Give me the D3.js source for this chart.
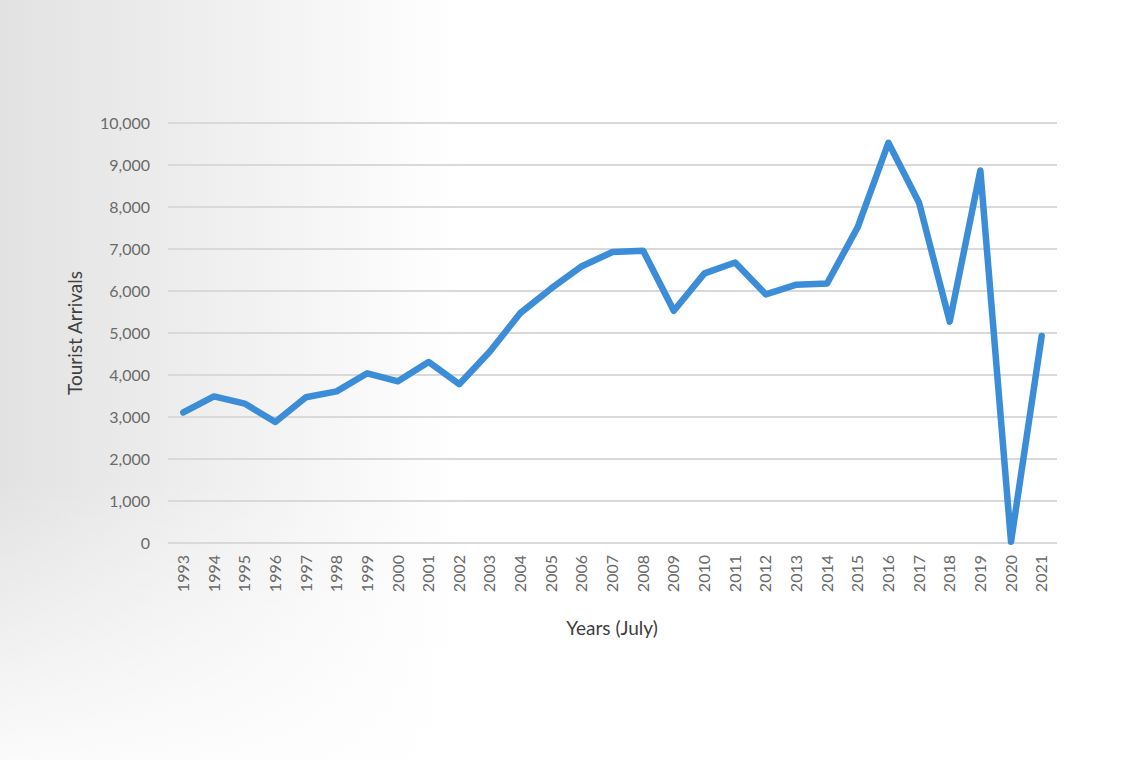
<!DOCTYPE html>
<html>
<head>
<meta charset="utf-8">
<script src="https://cdn.jsdelivr.net/npm/d3@7"></script>
<style>
  html, body { margin: 0; padding: 0; background: #fff; }
  svg { display: block; }
</style>
</head>
<body>
<svg id="chart"></svg>
<script>
// tourist arrivals, July of each year
var years = ["1993","1994","1995","1996","1997","1998","1999","2000","2001","2002",
             "2003","2004","2005","2006","2007","2008","2009","2010","2011","2012",
             "2013","2014","2015","2016","2017","2018","2019","2020","2021"];
var arrivals = [3110, 3490, 3320, 2880, 3470, 3610, 4040, 3850, 4310, 3780,
                4560, 5480, 6060, 6590, 6930, 6960, 5530, 6420, 6680, 5920,
                6150, 6180, 7520, 9530, 8100, 5270, 8870, 30, 4930];
var yTicks = [0, 1000, 2000, 3000, 4000, 5000, 6000, 7000, 8000, 9000, 10000];

var width = 1140;
var height = 760;
var margin = {top: 123, right: 83, bottom: 217, left: 168};

var svg = d3.select("#chart")
    .attr("width", width)
    .attr("height", height);

// soft grey shading on the left, fading out towards the bottom
var defs = svg.append("defs");
var side = defs.append("linearGradient")
    .attr("id", "side")
    .attr("gradientUnits", "userSpaceOnUse")
    .attr("x1", 0).attr("y1", 0).attr("x2", 460).attr("y2", 0);
side.append("stop").attr("offset", "0").attr("stop-color", "#e2e2e2");
side.append("stop").attr("offset", "0.5").attr("stop-color", "#f0f0f0");
side.append("stop").attr("offset", "1").attr("stop-color", "#ffffff");

var fade = defs.append("linearGradient")
    .attr("id", "fade")
    .attr("gradientUnits", "userSpaceOnUse")
    .attr("x1", 0).attr("y1", 480).attr("x2", 0).attr("y2", 760);
fade.append("stop").attr("offset", "0").attr("stop-color", "#fff").attr("stop-opacity", 0);
fade.append("stop").attr("offset", "1").attr("stop-color", "#fff").attr("stop-opacity", 0.85);

svg.append("rect")
    .attr("width", width).attr("height", height)
    .attr("fill", "url(#side)");
svg.append("rect")
    .attr("width", width).attr("height", height)
    .attr("fill", "url(#fade)");

var x = d3.scaleBand()
    .domain(years)
    .range([margin.left, width - margin.right]);

var y = d3.scaleLinear()
    .domain([0, 10000])
    .range([height - margin.bottom, margin.top]);

// gridlines
svg.append("g")
    .selectAll("line")
    .data(yTicks)
    .enter().append("line")
    .attr("x1", margin.left)
    .attr("x2", width - margin.right)
    .attr("y1", function(d) { return y(d); })
    .attr("y2", function(d) { return y(d); })
    .attr("stroke", "#d9d9d9")
    .attr("stroke-width", 2);

// y axis labels
var yAxis = d3.axisLeft(y)
    .tickValues(yTicks)
    .tickFormat(d3.format(","))
    .tickSize(0)
    .tickPadding(18);

svg.append("g")
    .attr("transform", "translate(" + margin.left + ",0)")
    .call(yAxis)
    .call(function(g) { g.select(".domain").remove(); })
    .selectAll("text")
    .attr("font-family", "Lato, 'Open Sans', sans-serif")
    .attr("font-size", "16px")
    .attr("fill", "#6a6a6a");

// x axis labels, rotated
var xAxis = d3.axisBottom(x).tickSize(0).tickPadding(0);

svg.append("g")
    .attr("transform", "translate(0," + (height - margin.bottom) + ")")
    .call(xAxis)
    .call(function(g) { g.select(".domain").remove(); })
    .selectAll("text")
    .attr("font-family", "Lato, 'Open Sans', sans-serif")
    .attr("font-size", "16px")
    .attr("fill", "#6a6a6a")
    .attr("text-anchor", "end")
    .attr("dy", "0.35em")
    .attr("transform", "translate(0,12) rotate(-90)")
    .attr("x", 0)
    .attr("y", 0);

// axis titles
svg.append("text")
    .attr("x", 612)
    .attr("y", 635)
    .attr("text-anchor", "middle")
    .attr("font-family", "Lato, 'Open Sans', sans-serif")
    .attr("font-size", "19px")
    .attr("fill", "#404040")
    .text("Years (July)");

svg.append("text")
    .attr("transform", "translate(82,333) rotate(-90)")
    .attr("text-anchor", "middle")
    .attr("font-family", "Lato, 'Open Sans', sans-serif")
    .attr("font-size", "19px")
    .attr("fill", "#404040")
    .text("Tourist Arrivals");

// the series line
var line = d3.line()
    .x(function(d, i) { return x(years[i]) + x.bandwidth() / 2; })
    .y(function(d) { return y(d); });

svg.append("path")
    .datum(arrivals)
    .attr("d", line)
    .attr("fill", "none")
    .attr("stroke", "#3a8dd6")
    .attr("stroke-width", 6.5)
    .attr("stroke-linejoin", "round")
    .attr("stroke-linecap", "round");
</script>
</body>
</html>
